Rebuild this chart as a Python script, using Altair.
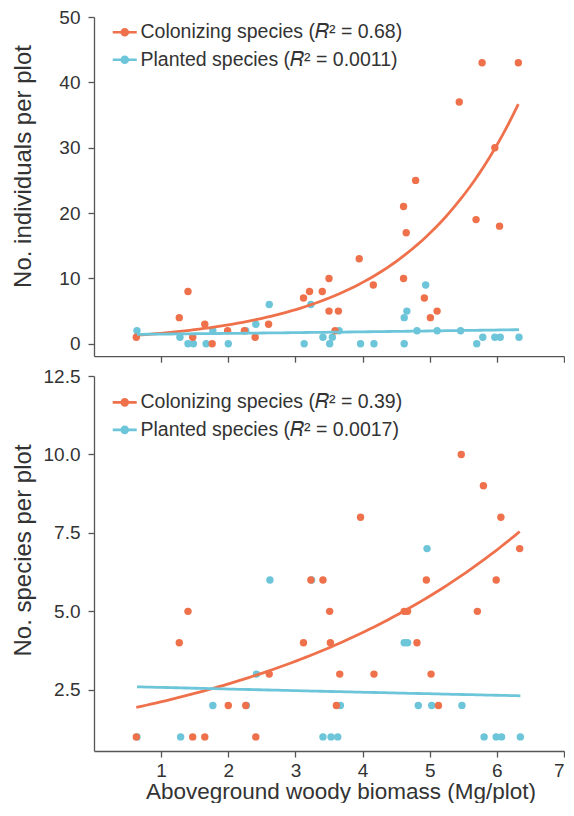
import altair as alt
import numpy as np
import pandas as pd

# ---------------- data ----------------
# Top panel: number of individuals per plot
top_col_x = [0.63, 1.27, 1.40, 1.47, 1.65, 1.76, 1.99, 2.24, 2.40, 2.60,
             3.12, 3.21, 3.40, 3.50, 3.50, 3.59, 3.64, 3.95, 4.16,
             4.61, 4.61, 4.65, 4.79, 4.92, 5.01, 5.11, 5.44, 5.69, 5.78,
             5.97, 6.04, 6.32]
top_col_y = [1, 4, 8, 1, 3, 0, 2, 2, 1, 3,
             7, 8, 8, 10, 5, 2, 5, 13, 9,
             21, 10, 17, 25, 7, 4, 5, 37, 19, 43,
             30, 18, 43]
top_pl_x = [0.64, 1.28, 1.40, 1.48, 1.67, 1.77, 2.00, 2.26, 2.41, 2.61,
            3.13, 3.23, 3.41, 3.51, 3.55, 3.65, 3.97, 4.17, 4.62, 4.62,
            4.66, 4.81, 4.94, 5.11, 5.46, 5.70, 5.79, 5.97, 6.05, 6.33]
top_pl_y = [2, 1, 0, 0, 0, 2, 0, 2, 3, 6,
            0, 6, 1, 0, 1, 2, 0, 0, 0, 4,
            5, 2, 9, 2, 2, 0, 1, 1, 1, 1]

# Bottom panel: number of species per plot
bot_col_x = [0.63, 1.27, 1.40, 1.47, 1.65, 2.00, 2.26, 2.41, 2.61, 3.12,
             3.23, 3.41, 3.51, 3.52, 3.61, 3.66, 3.97, 4.17, 4.62, 4.67,
             4.81, 4.95, 5.02, 5.13, 5.47, 5.71, 5.80, 5.99, 6.06, 6.34]
bot_col_y = [1, 4, 5, 1, 1, 2, 2, 1, 3, 4,
             6, 6, 5, 4, 2, 3, 8, 3, 5, 5,
             4, 6, 3, 2, 10, 5, 9, 6, 8, 7]
bot_pl_x = [0.64, 1.29, 1.77, 2.27, 2.42, 2.62, 3.24, 3.41, 3.53, 3.63, 3.67,
            4.62, 4.67, 4.83, 4.96, 5.03, 5.48, 5.81, 5.99, 6.07, 6.35]
bot_pl_y = [1, 1, 2, 2, 3, 6, 6, 1, 1, 1, 2,
            4, 4, 2, 7, 2, 2, 1, 1, 1, 1]

top_labels = ["Colonizing species (\U0001D445\u00b2 = 0.68)", "Planted species (\U0001D445\u00b2 = 0.0011)"]
bot_labels = ["Colonizing species (\U0001D445\u00b2 = 0.39)", "Planted species (\U0001D445\u00b2 = 0.0017)"]

x_ticks = [1, 2, 3, 4, 5, 6, 7]
top_y_ticks = [0, 10, 20, 30, 40, 50]
bot_y_ticks = [2.5, 5.0, 7.5, 10.0, 12.5]

ORANGE = "#EF714B"
BLUE = "#6DC5D9"
AXIS = "#555555"
TEXT = "#333333"
FONT = "Liberation Sans"
PLOT_W = 470


# ---------------- Poisson GLM fit (log link) ----------------
def poisson_curve(xs, ys, label, n=80):
    x = np.asarray(xs, float)
    y = np.asarray(ys, float)
    X = np.column_stack([np.ones_like(x), x])
    beta = np.array([np.log(y.mean()), 0.0])
    for _ in range(100):
        eta = X @ beta
        mu = np.exp(eta)
        z = eta + (y - mu) / mu
        W = mu
        beta_new = np.linalg.solve(X.T @ (W[:, None] * X), X.T @ (W * z))
        if np.allclose(beta_new, beta, atol=1e-10):
            beta = beta_new
            break
        beta = beta_new
    gx = np.linspace(x.min(), x.max(), n)
    return pd.DataFrame({"x": gx, "y": np.exp(beta[0] + beta[1] * gx), "series": label})


def panel(col_x, col_y, pl_x, pl_y, labels, ydom, yticks, height, ylabel,
          title_y, legend_y, show_x_labels, yfmt):
    pts_col = pd.DataFrame({"x": col_x, "y": col_y})
    pts_pl = pd.DataFrame({"x": pl_x, "y": pl_y})
    curves = pd.concat([poisson_curve(col_x, col_y, labels[0]),
                        poisson_curve(pl_x, pl_y, labels[1])])

    xaxis = alt.Axis(values=x_ticks, labels=show_x_labels,
                     title="Aboveground woody biomass (Mg/plot)" if show_x_labels else None,
                     titleX=246.5, titleY=47.5, titleBaseline="alphabetic",
                     titleFontSize=22.5, labelPadding=4, labelFlush=True)
    yaxis = alt.Axis(values=yticks, format=yfmt, title=ylabel,
                     titleX=-64, titleY=title_y, titleBaseline="alphabetic",
                     titleFontSize=24, labelPadding=8)
    xsc = alt.Scale(domain=[0, 7], nice=False, zero=False)
    ysc = alt.Scale(domain=ydom, nice=False, zero=False)

    x_enc = alt.X("x:Q", scale=xsc, axis=xaxis)
    y_enc = alt.Y("y:Q", scale=ysc, axis=yaxis)

    pl_layer = alt.Chart(pts_pl).mark_circle(size=55, opacity=1, color=BLUE).encode(x=x_enc, y=y_enc)
    col_layer = alt.Chart(pts_col).mark_circle(size=55, opacity=1, color=ORANGE).encode(x=x_enc, y=y_enc)

    sym = "M-3,0L3,0M-0.4,0A0.4,0.4,0,1,0,0.4,0A0.4,0.4,0,1,0,-0.4,0ZM-0.75,0A0.75,0.75,0,1,0,0.75,0A0.75,0.75,0,1,0,-0.75,0Z"
    line_layer = alt.Chart(curves).mark_line(strokeWidth=2.8).encode(
        x=x_enc, y=y_enc,
        color=alt.Color("series:N", sort=labels,
                        scale=alt.Scale(domain=labels, range=[ORANGE, BLUE]),
                        legend=alt.Legend(title=None, orient="none", legendX=21, legendY=legend_y,
                                          symbolType=sym, symbolSize=64, symbolStrokeWidth=2.6,
                                          labelFont=FONT, labelFontSize=19.5, labelColor=TEXT,
                                          labelOffset=6, rowPadding=6.5, padding=0,
                                          labelLimit=400)),
        detail="series:N",
    )
    return alt.layer(pl_layer, col_layer, line_layer).properties(width=PLOT_W, height=height)


top = panel(top_col_x, top_col_y, top_pl_x, top_pl_y, top_labels,
            [-1.9, 50], top_y_ticks, 339.2, "No. individuals per plot", 149, 5.5, False, "d")
bottom = panel(bot_col_x, bot_col_y, bot_pl_x, bot_pl_y, bot_labels,
               [0.55, 12.5], bot_y_ticks, 375, "No. species per plot", 174, 16.6, True, ".1f")

chart = (
    alt.vconcat(top, bottom, spacing=19, bounds="flush")
    .resolve_scale(color="independent", x="independent", y="independent")
    .resolve_legend(color="independent")
    .properties(padding={"left": 3, "top": 0, "right": 0, "bottom": 0})
    .configure_view(stroke=None)
    .configure_axis(
        grid=False, domainColor=AXIS, domainWidth=1.3, tickColor=AXIS, tickWidth=1.3,
        tickSize=6, labelFont=FONT, labelFontSize=19, labelColor=TEXT,
        titleFont=FONT, titleColor=TEXT, titleFontWeight="normal",
    )
    .configure_axisY(labelPadding=8)
)

chart.save("out.html", embed_options={"renderer": "svg", "actions": False})
